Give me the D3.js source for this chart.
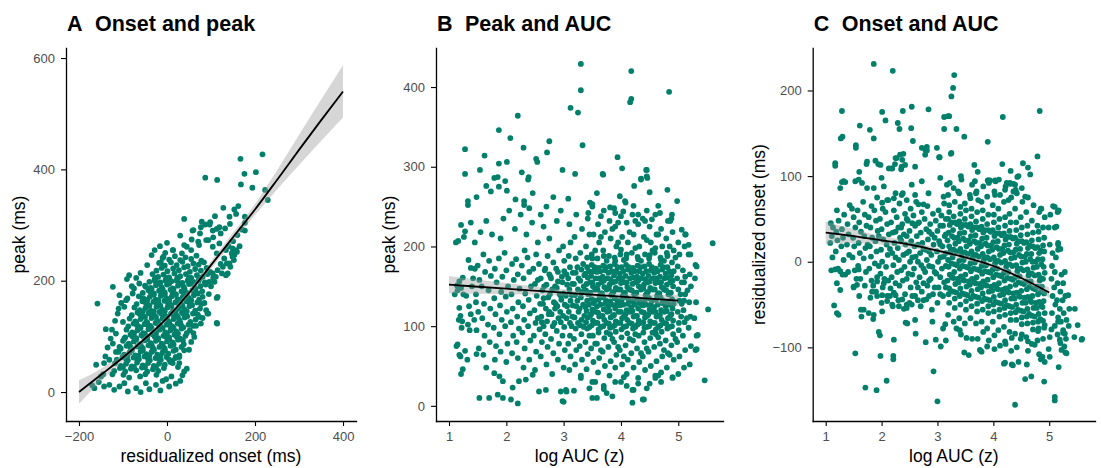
<!DOCTYPE html>
<html>
<head>
<meta charset="utf-8">
<script src="https://cdn.jsdelivr.net/npm/d3@7"></script>
<style>
  body { margin: 0; background: #fff; }
  svg { display: block; }
  text { font-family: "Liberation Sans", Arial, sans-serif; }
</style>
</head>
<body>
<svg id="chart" width="1101" height="468"></svg>
<script>
const POINT_COLOR = '#00806b'

// A: residualized onset (ms) vs peak (ms)
const onsetPeak = [
  [217,427],[167,419],[176,392],[202,395],[87,385],[114,381],[168,373],[194,367],[223,363],[229,345],
  [162,334],[128,331],[153,328],[157,320],[142,315],[177,315],[177,304],[177,290],[122,285],[113,293],
  [97,301],[79,306],[60,291],[75,285],[56,274],[71,270],[94,273],[105,278],[30,281],[45,261],
  [34,249],[14,255],[113,249],[147,249],[159,252],[136,231],[152,237],[125,213],[144,225],[39,311],
  [58,290],[77,296],[98,305],[87,301],[109,316],[104,290],[119,296],[132,294],[143,302],[13,255],
  [-10,241],[-14,233],[39,264],[55,255],[73,264],[89,273],[104,261],[119,267],[134,255],[149,258],
  [153,246],[142,231],[127,225],[138,213],[111,207],[96,198],[134,210],[-86,210],[-91,203],[-123,189],
  [-108,174],[-158,159],[-112,141],[-139,113],[-116,105],[-97,153],[-93,165],[-78,177],[-63,195],[-48,189],
  [-55,168],[-161,49],[-150,28],[-165,7],[-143,10],[-131,13],[-120,4],[-108,10],[-97,16],[-89,1],
  [-70,7],[-48,16],[-25,13],[-2,23],[13,52],[39,37],[28,63],[5,58],[-131,58],[-116,72],
  [-108,81],[-143,52],[-123,87],[-97,96],[73,135],[89,147],[77,123],[62,99],[36,93],[39,75],
  [20,63],[28,52],[115,171],[114,123],[92,141],[81,133],[104,213],[115,219],[149,243],[157,255],
  [130,240],[108,198],[113,169],[94,141],[113,124],
  [-135,80],[-128,96],[-140,64],[-145,32],[-125,112],[-118,128],[-110,150],[-100,126],[-104,160],[-90,168],
  [-80,190],[-70,205],[-60,214],[-75,186],[-45,228],[-35,246],[-28,255],[-16,262],[0,268],[-4,250],
  [30,20],[45,42],[50,76],[55,90],[35,30],[60,106],[66,119],[85,160],[95,176],[100,190],
  [105,205],[98,216],[122,230],[140,262],[150,271],[160,282],[170,292],[165,262],[25,45],[20,15],
  [10,28],[-10,20],[-170,12],[-155,18],[-60,0],[-40,5],[-15,3],[5,10],
  [-8,243],[5,238],[18,244],[30,237],[42,242],[55,239],[67,245],[78,236],
  [-18,232],[-5,227],[9,233],[22,228],[35,234],[47,226],[60,231],[72,229],[84,233],
  [-24,218],[-12,223],[1,217],[14,222],[27,219],[39,224],[52,216],[64,221],[77,218],[90,223],
  [-33,212],[-20,207],[-8,211],[5,206],[17,213],[30,208],[43,212],[55,205],[68,210],[81,207],[92,212],
  [-40,198],[-28,203],[-15,197],[-3,202],[10,199],[23,204],[35,196],[48,201],[60,198],[73,203],[86,197],
  [-50,191],[-37,187],[-25,192],[-12,188],[0,193],[13,186],[25,191],[38,189],[50,194],[63,187],[76,190],[88,193],
  [-55,178],[-42,183],[-30,177],[-18,182],[-5,179],[8,184],[20,176],[33,181],[45,178],[58,183],[70,177],[80,181],
  [-64,172],[-51,167],[-39,171],[-26,166],[-14,173],[-1,168],[11,172],[24,167],[36,171],[49,169],[61,174],[73,166],[81,171],
  [-69,158],[-56,163],[-44,157],[-31,162],[-19,159],[-6,164],[7,157],[19,161],[32,158],[44,163],[57,156],[69,161],[78,158],
  [-74,152],[-62,147],[-49,151],[-37,146],[-24,153],[-11,148],[1,152],[14,147],[26,151],[39,149],[51,154],[64,146],[75,150],
  [-80,138],[-67,143],[-55,137],[-42,142],[-30,139],[-17,144],[-4,137],[9,141],[21,138],[34,143],[46,136],[59,141],[70,139],
  [-85,132],[-72,127],[-60,131],[-47,126],[-35,133],[-22,128],[-10,132],[3,127],[15,131],[28,129],[40,134],[53,126],[65,130],
  [-88,118],[-76,123],[-63,117],[-51,122],[-38,119],[-26,124],[-13,117],[-1,121],[12,118],[24,123],[37,116],[49,121],[60,119],
  [-92,112],[-79,107],[-67,111],[-54,106],[-42,113],[-29,108],[-17,112],[-4,107],[8,111],[21,109],[33,114],[45,106],[52,111],
  [-95,98],[-83,103],[-70,97],[-58,102],[-45,99],[-33,104],[-20,97],[-8,101],[5,98],[17,103],[30,96],[42,101],
  [-100,92],[-87,87],[-75,91],[-62,86],[-50,93],[-37,88],[-25,92],[-12,87],[0,91],[13,89],[25,94],[38,86],
  [-105,78],[-92,83],[-80,77],[-67,82],[-55,79],[-42,84],[-30,77],[-17,81],[-5,78],[8,83],[20,76],[33,81],
  [-110,72],[-97,67],[-85,71],[-72,66],[-60,73],[-47,68],[-35,72],[-22,67],[-10,71],[3,69],[15,74],[28,66],
  [-114,58],[-101,63],[-89,57],[-76,62],[-64,59],[-51,64],[-39,57],[-26,61],[-14,58],[-1,63],[11,56],[19,61],
  [-118,52],[-105,47],[-93,51],[-80,46],[-68,53],[-55,48],[-43,52],[-30,47],[-18,51],[-5,49],[8,54],
  [-120,38],[-107,43],[-95,37],[-82,42],[-70,39],[-57,44],[-45,37],[-32,41],[-20,38],[-7,43],
  [-124,32],[-99,31],[-86,26],[-61,28],[-49,32],[-24,31],
  [-50,135],[-25,135],[0,135],[25,135],[-60,115],[-35,115],[-10,115],[15,115],[-70,95],[-45,95],
  [-20,95],[5,95],[-80,75],[-55,75],[-30,75],[-5,75],[-40,155],[-15,155],[10,155],[35,155],
  [-30,175],[-5,175],[20,175],[45,175],[-20,195],[5,195],[30,195],[55,195],
  [-70,125],[-45,125],[-20,125],[5,125],[30,125],[-75,105],[-50,105],[-25,105],[0,105],[25,105],
  [-85,85],[-60,85],[-35,85],[-10,85],[15,85],[-90,65],[-65,65],[-40,65],[-15,65],[-55,145],
  [-30,145],[-5,145],[20,145],[45,145],[-45,165],[-20,165],[5,165],[30,165],[55,165],[-35,185],
  [-10,185],[15,185],[40,185],[65,185],[-25,205],[0,205],[25,205],[50,205],[75,205],[-100,45],
  [-75,45],[-50,45],[-25,45],
  [-62,140],[-37,140],[-12,140],[13,140],[38,140],[-68,120],[-43,120],[-18,120],[7,120],[32,120],
  [-78,100],[-53,100],[-28,100],[-3,100],[22,100],[-83,80],[-58,80],[-33,80],[-8,80],[-93,60],
  [-68,60],[-43,60],[-18,60],[-48,160],[-23,160],[2,160],[27,160],[52,160],[-38,180],[-13,180],
  [12,180],[37,180],[62,180],[-28,200],[-3,200],[22,200],[47,200],[72,200]
]

// B: log AUC (z) vs peak (ms)
const aucPeak = [
  [3.30,429],[4.18,420],[3.30,396],[4.18,385],[4.16,381],[4.84,394],[3.12,374],[3.25,368],[2.20,364],[1.87,346],
  [2.07,336],[2.75,332],[3.33,327],[1.28,322],[2.30,324],[1.62,314],[3.94,312],[2.52,310],[2.54,306],[2.71,318],
  [4.02,298],[2.98,296],[1.54,296],[4.45,296],[3.20,291],[3.68,291],[1.28,291],[2.27,293],[1.87,304],[2.01,306],
  [2.39,287],[2.38,284],[1.85,287],[1.98,282],[4.35,285],[4.45,288],[4.23,276],[4.81,271],[4.50,268],[3.58,267],
  [2.46,267],[2.82,262],[3.98,263],[3.08,260],[4.98,257],[1.33,257],[1.33,252],[2.16,259],[2.31,257],[2.31,252],
  [2.01,270],[1.73,269],[1.48,262],[1.79,286],[1.87,275],[1.65,276],[1.21,227],[1.28,219],[1.26,212],[1.16,207],
  [1.34,183],[1.38,173],[1.24,161],[1.18,156],[1.14,151],[1.21,148],[1.30,138],[1.18,123],[1.20,113],[1.23,106],
  [1.33,102],[1.15,77],[1.18,64],[1.28,69],[1.32,58],[1.24,46],[1.21,40],[1.53,10],[1.70,10],[1.85,14],
  [1.94,10],[2.08,8],[2.20,3],[1.65,48],[1.79,41],[1.88,37],[1.94,31],[2.11,23],[2.22,31],[2.34,33],
  [2.46,39],[2.57,18],[2.69,20],[2.95,18],[3.04,20],[2.98,6],[3.18,19],[5.60,204],[5.52,121],[5.46,32],
  [5.32,71],[5.34,89],[4.44,296],[4.46,286],[4.35,284],[3.69,290],[3.46,255],[3.50,253],[3.43,242],[3.81,249],
  [3.90,242],[4.07,257],[4.04,244],[4.22,251],[4.30,240],[4.42,232],[4.54,234],[4.65,251],[4.68,242],[4.89,240],
  [4.86,232],[5.06,221],[5.12,215],[5.18,202],[5.21,190],[5.30,177],
  [1.12,205],[1.15,145],[1.22,98],[1.17,108],[1.25,140],[1.35,125],[1.38,115],[1.42,160],[1.45,172],[1.47,130],
  [1.13,75],[1.2,62],[1.48,65],[1.4,150],[1.44,108],[1.1,140],[1.36,95],
  [1.52,72],[1.48,95],[1.51,118],[1.47,140],[1.53,158],[1.5,176],
  [1.6,64],[1.62,88],[1.58,110],[1.61,128],[1.57,150],[1.63,168],[1.6,190],
  [1.71,80],[1.68,102],[1.72,122],[1.69,145],[1.73,163],[1.7,182],
  [1.8,58],[1.82,75],[1.78,98],[1.81,115],[1.79,135],[1.83,155],[1.8,172],
  [1.9,68],[1.88,90],[1.92,108],[1.89,126],[1.91,143],[1.93,162],[1.87,185],
  [2.0,55],[2.02,78],[1.98,100],[2.01,118],[1.99,137],[2.03,150],[2.0,170],[1.97,192],
  [2.1,66],[2.12,88],[2.08,105],[2.11,122],[2.09,140],[2.13,158],[2.1,178],
  [2.2,60],[2.18,80],[2.22,97],[2.19,112],[2.21,130],[2.23,147],[2.2,165],[2.17,184],
  [2.3,48],[2.32,72],[2.28,92],[2.31,108],[2.29,125],[2.33,141],[2.3,160],[2.27,176],[2.32,195],
  [2.4,58],[2.42,82],[2.38,100],[2.41,116],[2.39,133],[2.43,150],[2.4,168],[2.37,186],
  [2.5,45],[2.52,68],[2.48,88],[2.51,104],[2.49,120],[2.53,138],[2.5,153],[2.47,172],[2.52,190],
  [2.6,62],[2.62,80],[2.58,96],[2.61,112],[2.59,128],[2.63,145],[2.6,160],[2.57,178],
  [2.7,52],[2.72,74],[2.68,90],[2.71,106],[2.69,122],[2.73,136],[2.7,152],[2.67,170],[2.72,188],
  [2.8,40],[2.82,66],[2.78,84],[2.81,100],[2.79,115],[2.83,130],[2.8,146],[2.77,162],[2.82,180],
  [2.9,58],[2.92,78],[2.88,94],[2.91,110],[2.89,125],[2.93,140],[2.9,156],[2.87,172],[2.92,195],
  [3.0,48],[3.02,70],[2.98,88],[3.01,182],[2.99,200],
  [2.35,215],[2.45,230],[2.6,240],[2.65,225],[2.75,210],[2.88,232],[2.55,205],[2.25,240],[2.15,222],[1.95,235],
  [1.75,215],[1.65,232],[1.9,210],[2.05,245],[1.55,218],[1.45,205],[1.38,230],[2.95,245],[2.7,250],[2.4,248],
  [3.01,99],[2.99,113],[3.02,127],[3.0,141],[2.98,155],[3.01,169],
  [3.11,104],[3.09,118],[3.12,132],[3.1,146],[3.08,160],[3.11,174],
  [3.21,97],[3.19,111],[3.22,125],[3.2,139],[3.18,153],[3.21,167],
  [3.29,101],[3.31,108],[3.28,122],[3.3,136],[3.32,143],[3.29,157],[3.31,171],
  [3.41,97],[3.39,105],[3.42,111],[3.4,119],[3.38,124],[3.41,132],[3.43,140],[3.39,145],[3.4,153],[3.42,161],[3.38,166],[3.41,174],
  [3.49,101],[3.51,107],[3.48,115],[3.5,121],[3.52,129],[3.49,134],[3.47,142],[3.51,150],[3.5,155],[3.48,163],[3.52,169],[3.49,177],
  [3.61,96],[3.59,104],[3.62,112],[3.6,117],[3.58,125],[3.61,133],[3.63,138],[3.59,146],[3.6,152],[3.62,160],[3.58,168],[3.61,173],
  [3.69,100],[3.71,108],[3.68,113],[3.7,121],[3.72,128],[3.69,136],[3.67,141],[3.71,149],[3.7,157],[3.68,162],[3.72,170],[3.69,176],
  [3.81,98],[3.79,103],[3.82,111],[3.8,119],[3.78,125],[3.81,131],[3.83,139],[3.79,147],[3.8,152],[3.82,159],[3.78,167],[3.81,175],
  [3.89,101],[3.91,106],[3.88,114],[3.9,122],[3.92,127],[3.89,135],[3.87,143],[3.91,148],[3.9,156],[3.88,164],[3.92,169],[3.89,178],
  [4.01,96],[3.99,104],[4.02,110],[4.0,118],[3.98,126],[4.01,132],[4.03,138],[3.99,146],[4.0,154],[4.02,160],[3.98,166],[4.01,174],
  [4.09,100],[4.11,108],[4.08,115],[4.1,120],[4.12,128],[4.09,136],[4.07,142],[4.11,149],[4.1,155],[4.08,163],[4.12,171],[4.09,177],
  [4.21,97],[4.19,103],[4.22,112],[4.2,119],[4.18,124],[4.21,131],[4.23,140],[4.19,145],[4.2,153],[4.22,161],[4.18,167],[4.21,173],
  [4.29,102],[4.31,107],[4.28,113],[4.3,122],[4.32,129],[4.29,134],[4.27,142],[4.31,150],[4.3,157],[4.28,162],[4.32,169],[4.29,176],
  [4.41,98],[4.39,105],[4.42,111],[4.4,117],[4.38,126],[4.41,132],[4.43,139],[4.39,147],[4.4,152],[4.42,159],[4.38,166],[4.41,175],
  [4.49,100],[4.51,106],[4.48,115],[4.5,121],[4.52,127],[4.49,135],[4.47,143],[4.51,148],[4.5,156],[4.48,163],[4.52,170],[4.49,178],
  [4.61,96],[4.59,104],[4.62,112],[4.6,118],[4.58,124],[4.61,133],[4.63,138],[4.59,146],[4.6,154],[4.62,160],[4.58,167],[4.61,172],
  [4.69,101],[4.71,108],[4.68,114],[4.7,120],[4.72,129],[4.69,136],[4.67,141],[4.71,149],[4.7,155],[4.68,162],[4.72,171],[4.69,177],
  [4.81,97],[4.79,103],[4.82,110],[4.8,119],[4.78,125],[4.81,131],[4.83,140],[4.79,145],[4.8,152],[4.82,161],[4.78,166],[4.81,174],
  [4.89,100],[4.91,107],[4.88,115],[4.9,122],[4.92,128],[4.89,134],[4.87,142],[4.91,150],[4.9,157],[4.88,164],[4.92,169],
  [5.01,104],[4.99,118],[5.02,132],[5.0,146],[4.98,160],
  [3.45,99],[3.46,113],[3.44,127],[3.45,141],[3.46,155],[3.44,169],
  [3.55,104],[3.56,118],[3.54,132],[3.55,146],[3.56,160],[3.54,174],
  [3.65,99],[3.66,113],[3.64,127],[3.65,141],[3.66,155],[3.64,169],
  [3.75,104],[3.76,118],[3.74,132],[3.75,146],[3.76,160],[3.74,174],
  [3.85,99],[3.86,113],[3.84,127],[3.85,141],[3.86,155],[3.84,169],
  [3.95,104],[3.96,118],[3.94,132],[3.95,146],[3.96,160],[3.94,174],
  [4.05,99],[4.06,113],[4.04,127],[4.05,141],[4.06,155],[4.04,169],
  [4.15,104],[4.16,118],[4.14,132],[4.15,146],[4.16,160],[4.14,174],
  [4.25,99],[4.26,113],[4.24,127],[4.25,141],[4.26,155],[4.24,169],
  [4.35,104],[4.36,118],[4.34,132],[4.35,146],[4.36,160],[4.34,174],
  [4.45,99],[4.46,113],[4.44,127],[4.45,141],[4.46,155],[4.44,169],
  [4.55,104],[4.56,118],[4.54,132],[4.55,146],[4.56,160],[4.54,174],
  [4.65,99],[4.66,113],[4.64,127],[4.65,141],[4.66,155],[4.64,169],
  [4.75,104],[4.76,118],[4.74,132],[4.75,146],[4.76,160],[4.74,174],
  [4.85,99],[4.86,113],[4.84,127],[4.85,141],[4.86,155],[4.84,169],
  [2.62,105],[2.64,128],[2.66,150],[2.68,172],[2.74,115],[2.76,140],[2.78,160],[2.84,104],[2.86,128],[2.88,148],
  [2.9,168],[2.94,118],[2.96,133],[2.97,162],[3.05,110],[3.06,125],[3.04,138],[3.06,152],[3.05,165],[3.14,100],
  [3.15,112],[3.16,126],[3.14,139],[3.15,153],[3.16,167],[3.25,104],[3.26,118],[3.24,132],[3.25,146],[3.26,160],
  [3.24,174],[3.35,99],[3.36,113],[3.34,127],[3.35,150],[3.36,164],[3.34,178],
  [5.05,112],[5.06,128],[5.04,140],[5.06,155],[5.1,132],[5.12,162],[5.15,110],[5.16,145],
  [3.5,185],[3.7,188],[3.9,182],[4.1,190],[4.3,184],[4.5,189],[4.7,183],[4.8,192],[4.0,196],[4.6,198],
  [3.55,195],[3.65,212],[3.75,182],[3.85,222],[3.95,205],[4.05,183],[4.15,218],[4.25,198],[4.35,182],[4.45,208],
  [4.55,195],[4.65,215],[4.75,182],[4.85,200],[4.95,186],[3.45,215],[3.95,230],[4.45,245],[4.25,232],[3.65,238],
  [3.45,88],[3.65,70],[3.85,84],[4.05,62],[4.25,90],[4.45,72],[4.65,86],[4.85,64],[3.55,78],[3.75,92],
  [3.95,74],[4.15,84],[4.35,66],[4.55,92],[4.75,70],[4.95,84],
  [2.55,110],[2.65,135],[2.75,118],[2.85,150],[2.95,105],[2.55,158],[2.65,100],[2.75,165],[2.85,122],[2.95,138],
  [3.1,45],[3.12,62],[3.08,78],[3.11,88],[3.09,188],[3.12,205],[3.1,228],
  [3.2,52],[3.22,70],[3.18,84],[3.21,185],[3.19,212],[3.22,240],
  [3.3,38],[3.32,58],[3.28,75],[3.31,90],[3.29,192],[3.32,222],
  [3.4,46],[3.42,65],[3.38,80],[3.41,186],[3.39,200],[3.42,235],
  [3.5,30],[3.52,55],[3.48,72],[3.51,88],[3.49,190],[3.52,215],[3.5,250],
  [3.6,42],[3.62,60],[3.58,78],[3.61,92],[3.59,185],[3.62,205],[3.6,228],
  [3.7,25],[3.72,50],[3.68,68],[3.71,85],[3.69,195],[3.72,218],[3.7,245],
  [3.8,38],[3.82,56],[3.78,74],[3.81,90],[3.79,188],[3.82,210],[3.8,232],
  [3.9,48],[3.92,64],[3.88,80],[3.91,93],[3.89,186],[3.92,200],[3.9,225],[3.88,248],
  [4.0,30],[4.02,52],[3.98,70],[4.01,86],[3.99,190],[4.02,212],[4.0,238],
  [4.1,40],[4.12,58],[4.08,76],[4.11,91],[4.09,185],[4.12,205],[4.1,230],[4.08,255],
  [4.2,20],[4.22,48],[4.18,66],[4.21,82],[4.19,192],[4.22,215],[4.2,240],
  [4.3,35],[4.32,55],[4.28,72],[4.31,88],[4.29,187],[4.32,200],[4.3,228],
  [4.4,8],[4.42,45],[4.38,62],[4.41,80],[4.39,92],[4.42,190],[4.4,212],[4.38,235],
  [4.5,28],[4.52,50],[4.48,68],[4.51,85],[4.49,185],[4.52,205],[4.5,225],
  [4.6,38],[4.62,56],[4.58,74],[4.61,90],[4.59,192],[4.62,215],[4.6,240],
  [4.7,42],[4.72,62],[4.68,78],[4.71,93],[4.69,186],[4.72,200],[4.7,222],
  [4.8,48],[4.82,66],[4.78,82],[4.81,188],[4.79,210],[4.82,232],
  [4.9,36],[4.92,58],[4.88,76],[4.91,90],[4.89,180],[4.92,195],[4.9,218],[4.88,235],
  [5.0,40],[5.02,62],[4.98,80],[5.01,95],[4.99,175],[5.02,190],[5.0,205],
  [5.1,48],[5.12,70],[5.08,88],[5.11,105],[5.09,120],[5.12,140],[5.1,155],[5.08,170],[5.11,200],[5.13,215],
  [5.2,52],[5.22,75],[5.18,98],[5.21,112],[5.19,130],[5.22,150],[5.2,165],[5.18,190],
  [5.3,70],[5.32,88],[5.28,110],[5.31,130],[5.29,160],[5.32,175],
  [3.0,5],[3.5,10],[3.58,10],[4.2,4],[4.38,8],[4.22,20],[4.3,28],[3.05,18],[3.45,22],[3.7,21],
  [3.75,16],[3.9,30],[4.6,35],[4.65,38],[4.45,22],[3.3,35],[3.55,30],[4.05,36],[4.9,35],[3.85,12],
  [4.1,25],[4.7,30]
]

// C: log AUC (z) vs residualized onset (ms)
const aucOnset = [
  [1.86,231],[2.20,223],[3.30,218],[3.28,203],[3.25,193],[1.29,176],[2.01,175],[2.38,176],[2.54,181],[2.84,178],
  [4.83,176],[3.12,169],[3.21,170],[4.17,169],[2.07,165],[2.29,162],[1.61,159],[2.53,156],[2.32,155],[3.12,155],
  [3.34,155],[1.79,154],[1.86,144],[1.30,146],[1.27,144],[3.48,146],[1.54,136],[1.54,133],[2.56,141],[3.90,140],
  [2.81,134],[2.81,130],[2.99,133],[3.03,122],[3.24,126],[4.79,123],[1.17,115],[1.17,112],[1.73,114],[1.89,118],
  [1.94,114],[2.13,109],[2.18,109],[2.24,114],[2.27,121],[2.39,126],[2.35,108],[2.42,113],[2.37,119],[2.78,125],
  [2.78,131],[1.29,93],[1.35,93],[1.26,86],[1.60,105],[1.59,96],[2.00,98],[4.53,115],[4.62,110],[4.43,99],
  [4.30,91],[4.36,91],[4.40,84],[4.16,114],[3.90,95],[3.94,95],[4.04,94],[3.66,113],[5.10,64],[5.17,60],
  [4.85,62],[1.74,117],[1.98,113],[2.25,121],[2.33,125],[2.19,109],[2.36,111],[2.60,111],[2.72,133],[3.04,122],
  [1.32,94],[1.53,94],[1.65,92],[1.74,86],[1.86,86],[2.04,88],[2.10,72],[2.01,69],[2.25,80],[2.22,74],
  [2.36,78],[2.45,72],[2.54,90],[2.60,78],[2.66,67],[2.75,67],[2.84,80],[2.72,94],[3.05,98],[3.11,76],
  [3.17,90],[4.66,102],[4.31,106],[4.45,100],[3.25,127],[3.19,170],
  [3.43,96],[3.67,94],[3.91,95],[4.03,95],[4.24,92],[4.39,90],[4.21,84],[4.36,82],[4.51,86],[4.57,76],
  [3.70,82],[3.58,78],[3.37,82],[3.73,72],[4.03,78],[4.27,72],[4.86,62],[5.07,65],[5.16,59],[5.13,41],
  [5.16,22],[5.16,14],[5.28,-12],[5.34,-39],[5.59,-90],[5.28,-84],[5.19,-91],[5.22,-103],[5.31,-107],
  [4.39,-167],[5.10,-158],[5.10,-162],[3.00,-163],[1.91,-150],[1.71,-147],[2.09,-139],[4.57,-137],[4.68,-134],[4.91,-140],
  [2.93,-128],[1.53,-107],[2.21,-114],[2.21,-110],[1.98,-110],[4.19,-119],[4.35,-121],[4.45,-117],[4.60,-120],[3.48,-106],
  [3.56,-109],[3.06,-99],[3.76,-103],[4.02,-102],[3.89,-99],[5.58,-91],[5.51,-74],[5.46,-55],[5.17,-123],[4.88,-111],
  [4.85,-114],[4.92,-117],[5.01,-111],[5.29,-106],[5.27,-99],[1.15,-51],[1.20,-60],[1.23,-62],[1.95,-82],[1.97,-86],
  [1.63,-56],[1.64,-64],[1.85,-67],[2.43,-71],[2.46,-72],[2.60,-68],[2.61,-84],[2.79,-94],[2.97,-91],[3.15,-92],
  [2.91,-70],[3.14,-73],[3.10,-78],[3.40,-80],[3.34,-78],[3.52,-89],[3.79,-105],[4.21,-93],[4.33,-89],[4.51,-85],
  [4.62,-93],[4.74,-97],[4.80,-81],[4.92,-74],[5.04,-79],[5.16,-70],[5.25,-83],[4.33,-120],[4.21,-118],
  [1.17,-9],[1.26,-11],[1.35,-15],[1.59,-9],[1.50,-29],[1.56,-27],[1.26,-33],[1.68,-56],[1.77,-60],[1.86,-62],
  [2.01,-58],[2.22,-91],[1.83,-35],[1.92,-40],[2.01,-39],[2.10,-46],[2.19,-50],[2.31,-52],[2.37,-44],[2.45,-54],
  [2.54,-50],[2.25,-39],[2.16,-31],[2.04,-25],[1.92,-23],
  [1.1,-10],[1.12,5],[1.08,22],[1.11,30],[1.13,40],[1.09,45],
  [1.2,-25],[1.22,-8],[1.18,12],[1.21,25],[1.19,35],[1.23,48],[1.2,60],
  [1.3,-15],[1.32,2],[1.28,18],[1.31,28],[1.29,38],[1.33,55],
  [1.4,-12],[1.42,8],[1.38,20],[1.41,32],[1.39,44],[1.43,66],
  [1.5,-30],[1.52,-10],[1.48,5],[1.51,18],[1.49,28],[1.53,40],[1.5,52],[1.47,62],
  [1.6,-40],[1.62,-20],[1.58,-5],[1.61,10],[1.59,22],[1.63,35],[1.6,46],[1.57,60],
  [1.7,-28],[1.72,-12],[1.68,4],[1.71,16],[1.69,30],[1.73,42],[1.7,55],[1.67,70],
  [1.8,-42],[1.82,-22],[1.78,-8],[1.81,6],[1.79,18],[1.83,28],[1.8,40],[1.77,52],[1.82,65],
  [1.9,-35],[1.92,-18],[1.88,-2],[1.91,12],[1.89,24],[1.93,36],[1.9,48],[1.87,60],[1.92,75],
  [2.0,-48],[2.02,-30],[1.98,-14],[2.01,0],[1.99,14],[2.03,26],[2.0,38],[1.97,50],[2.02,62],
  [2.1,-40],[2.12,-22],[2.08,-6],[2.11,8],[2.09,20],[2.13,32],[2.1,44],[2.07,58],[2.12,72],
  [2.2,-52],[2.22,-36],[2.18,-18],[2.21,-4],[2.19,10],[2.23,22],[2.2,34],[2.17,46],[2.22,60],
  [2.3,-45],[2.32,-28],[2.28,-12],[2.31,2],[2.29,16],[2.33,28],[2.3,40],[2.27,52],[2.32,68],
  [2.4,-55],[2.42,-38],[2.38,-22],[2.41,-6],[2.39,8],[2.43,20],[2.4,32],[2.37,44],[2.42,56],[2.38,80],
  [2.5,-48],[2.52,-30],[2.48,-14],[2.51,0],[2.49,12],[2.53,24],[2.5,36],[2.47,48],[2.52,62],
  [2.6,-40],[2.62,-24],[2.58,-8],[2.61,6],[2.59,18],[2.63,30],[2.6,42],[2.57,54],[2.62,70],
  [2.7,-52],[2.72,-35],[2.68,-18],[2.71,-4],[2.69,10],[2.73,22],[2.7,34],[2.67,46],[2.72,58],
  [2.8,-44],[2.82,-28],[2.78,-12],[2.81,2],[2.79,14],[2.83,26],[2.8,38],[2.77,50],[2.82,65],
  [2.9,-56],[2.92,-38],[2.88,-20],[2.91,-6],[2.89,8],[2.93,20],[2.9,32],[2.87,44],[2.92,56],
  [3.0,-48],[3.02,-30],[2.98,-14],[3.01,0],[2.99,12],[3.03,24],[3.0,36],[2.97,48],[3.02,60],
  [3.1,-40],[3.12,-24],[3.08,-8],[3.11,6],[3.09,18],[3.13,30],[3.1,42],[3.07,54],[3.12,68],
  [2.45,-20],[2.55,5],[2.65,-30],[2.75,15],[2.85,-5],[2.95,28],[3.05,-18],[3.15,10],[2.35,40],[2.45,30],
  [2.55,-40],[2.65,20],[2.75,-25],[2.85,35],[2.95,-30],[3.05,42],[3.15,-30],[2.25,-25],[2.15,15],[2.05,-20],
  [1.95,30],[1.85,-28],[2.35,-10],[2.65,45],[2.85,-40],[3.05,5],[3.15,50],[2.55,45],[2.45,-50],[2.75,-45],
  [2.25,5],[2.35,25],[2.45,10],[2.55,-15],[2.65,0],[2.75,-8],[2.85,12],[2.95,-12],[3.05,20],[3.15,-5],
  [2.25,35],[2.45,50],[2.65,-45],[2.85,-22],[3.05,-38],[3.15,32],[2.15,-40],[1.95,-5],[1.75,20],[1.55,-20],
  [3.21,58],[3.19,50],[3.22,43],[3.2,34],[3.18,25],[3.21,18],[3.23,11],[3.19,2],[3.2,-6],[3.22,-15],[3.18,-22],[3.21,-31],[3.2,-38],
  [3.29,53],[3.31,46],[3.28,37],[3.3,28],[3.32,21],[3.29,14],[3.27,5],[3.31,-3],[3.3,-12],[3.28,-19],[3.32,-26],[3.29,-35],[3.31,-43],
  [3.41,56],[3.39,47],[3.42,40],[3.4,33],[3.38,24],[3.41,15],[3.43,8],[3.39,1],[3.4,-8],[3.42,-17],[3.38,-24],[3.41,-31],[3.4,-40],
  [3.49,50],[3.51,43],[3.48,34],[3.5,25],[3.52,18],[3.49,11],[3.47,2],[3.51,-6],[3.5,-15],[3.48,-22],[3.52,-29],[3.49,-38],[3.51,-46],
  [3.61,53],[3.59,44],[3.62,37],[3.6,30],[3.58,21],[3.61,12],[3.63,5],[3.59,-2],[3.6,-11],[3.62,-20],[3.58,-27],[3.61,-34],[3.6,-43],
  [3.69,47],[3.71,40],[3.68,31],[3.7,22],[3.72,15],[3.69,8],[3.67,-1],[3.71,-9],[3.7,-18],[3.68,-25],[3.72,-32],[3.69,-41],[3.71,-49],
  [3.81,50],[3.79,41],[3.82,34],[3.8,27],[3.78,18],[3.81,9],[3.83,2],[3.79,-5],[3.8,-14],[3.82,-23],[3.78,-30],[3.81,-37],[3.8,-46],
  [3.89,44],[3.91,37],[3.88,28],[3.9,19],[3.92,12],[3.89,5],[3.87,-4],[3.91,-12],[3.9,-21],[3.88,-28],[3.92,-35],[3.89,-44],[3.91,-52],
  [4.01,46],[3.99,37],[4.02,30],[4.0,23],[3.98,14],[4.01,5],[4.03,-2],[3.99,-9],[4.0,-18],[4.02,-27],[3.98,-34],[4.01,-41],[4.0,-50],
  [4.09,40],[4.11,33],[4.08,24],[4.1,15],[4.12,8],[4.09,1],[4.07,-8],[4.11,-16],[4.1,-25],[4.08,-32],[4.12,-39],[4.09,-48],[4.11,-56],
  [4.21,42],[4.19,33],[4.22,26],[4.2,19],[4.18,10],[4.21,1],[4.23,-6],[4.19,-13],[4.2,-22],[4.22,-31],[4.18,-38],[4.21,-45],[4.2,-54],
  [4.29,36],[4.31,29],[4.28,20],[4.3,11],[4.32,4],[4.29,-3],[4.27,-12],[4.31,-20],[4.3,-29],[4.28,-36],[4.32,-43],[4.29,-52],[4.31,-60],
  [4.41,37],[4.39,28],[4.42,21],[4.4,14],[4.38,5],[4.41,-4],[4.43,-11],[4.39,-18],[4.4,-27],[4.42,-36],[4.38,-43],[4.41,-50],[4.4,-59],
  [4.49,31],[4.51,24],[4.48,15],[4.5,6],[4.52,-1],[4.49,-8],[4.47,-17],[4.51,-25],[4.5,-34],[4.48,-41],[4.52,-48],[4.49,-57],[4.51,-65],
  [4.61,32],[4.59,23],[4.62,16],[4.6,9],[4.58,0],[4.61,-9],[4.63,-16],[4.59,-23],[4.6,-32],[4.62,-41],[4.58,-48],[4.61,-55],[4.6,-64],
  [4.69,25],[4.71,18],[4.68,9],[4.7,0],[4.72,-7],[4.69,-14],[4.67,-23],[4.71,-31],[4.7,-40],[4.68,-47],[4.72,-54],[4.69,-63],[4.71,-71],
  [4.81,26],[4.79,17],[4.82,10],[4.8,3],[4.78,-6],[4.81,-15],[4.83,-22],[4.79,-29],[4.8,-38],[4.82,-47],[4.78,-54],[4.81,-61],[4.8,-70],
  [4.89,19],[4.91,12],[4.88,3],[4.9,-6],[4.92,-13],[4.89,-20],[4.87,-29],[4.91,-37],[4.9,-46],[4.88,-53],[4.92,-60],[4.89,-69],
  [3.25,46],[3.26,30],[3.24,14],[3.25,-2],[3.26,-18],[3.24,-34],
  [3.35,44],[3.36,28],[3.34,12],[3.35,-4],[3.36,-20],[3.34,-36],
  [3.45,43],[3.46,27],[3.44,11],[3.45,-5],[3.46,-21],[3.44,-37],
  [3.55,41],[3.56,25],[3.54,9],[3.55,-7],[3.56,-23],[3.54,-39],
  [3.65,40],[3.66,24],[3.64,8],[3.65,-8],[3.66,-24],[3.64,-40],
  [3.75,38],[3.76,22],[3.74,6],[3.75,-10],[3.76,-26],[3.74,-42],
  [3.85,37],[3.86,21],[3.84,5],[3.85,-11],[3.86,-27],[3.84,-43],
  [3.95,35],[3.96,19],[3.94,3],[3.95,-13],[3.96,-29],[3.94,-45],
  [4.05,33],[4.06,17],[4.04,1],[4.05,-15],[4.06,-31],[4.04,-47],
  [4.15,31],[4.16,15],[4.14,-1],[4.15,-17],[4.16,-33],[4.14,-49],
  [4.25,29],[4.26,13],[4.24,-3],[4.25,-19],[4.26,-35],[4.24,-51],
  [4.35,27],[4.36,11],[4.34,-5],[4.35,-21],[4.36,-37],[4.34,-53],
  [4.45,24],[4.46,8],[4.44,-8],[4.45,-24],[4.46,-40],[4.44,-56],
  [4.55,22],[4.56,6],[4.54,-10],[4.55,-26],[4.56,-42],[4.54,-58],
  [4.65,19],[4.66,3],[4.64,-13],[4.65,-29],[4.66,-45],[4.64,-61],
  [4.75,16],[4.76,0],[4.74,-16],[4.75,-32],[4.76,-48],[4.74,-64],
  [4.85,13],[4.86,-3],[4.84,-19],[4.85,-35],[4.86,-51],[4.84,-67],
  [3.21,66],[3.19,78],[3.22,92],[3.31,70],[3.29,86],[3.41,64],[3.39,80],[3.42,100],[3.51,60],[3.49,68],
  [3.61,62],[3.59,74],[3.62,90],[3.71,58],[3.69,80],[3.72,105],[3.81,60],[3.79,70],[3.82,88],[3.91,55],
  [3.89,76],[3.92,92],[4.01,55],[3.99,66],[4.02,82],[4.11,50],[4.09,62],[4.12,78],[4.1,96],[4.21,52],
  [4.19,70],[4.22,88],[4.31,46],[4.29,56],[4.32,75],[4.3,92],[4.41,46],[4.39,62],[4.42,80],[4.51,40],
  [4.49,52],[4.52,70],[4.61,42],[4.59,58],[4.62,75],[4.71,34],[4.69,48],[4.72,66],[4.81,35],[4.79,42],
  [4.82,58],[4.91,28],[4.89,40],[4.92,52],[5.01,20],[4.99,40],[5.02,55],
  [3.21,-48],[3.19,-62],[3.31,-54],[3.29,-70],[3.41,-50],[3.39,-66],[3.42,-85],[3.51,-56],[3.49,-72],[3.61,-52],
  [3.59,-66],[3.62,-90],[3.71,-58],[3.69,-72],[3.72,-90],[3.81,-56],[3.79,-70],[3.82,-82],[3.91,-60],[3.89,-78],
  [3.92,-92],[4.01,-58],[3.99,-70],[4.02,-86],[4.11,-64],[4.09,-80],[4.12,-98],[4.21,-62],[4.19,-76],[4.22,-96],
  [4.31,-68],[4.29,-82],[4.32,-104],[4.41,-68],[4.39,-84],[4.42,-100],[4.51,-73],[4.49,-90],[4.61,-72],[4.59,-88],
  [4.62,-104],[4.71,-79],[4.69,-96],[4.81,-78],[4.79,-92],[4.82,-108],[4.91,-77],[4.89,-90],[5.01,-88],[4.99,-102],
  [5.05,-60],[5.06,-40],[5.04,-20],[5.05,-5],[5.06,10],[5.1,-75],[5.11,-50],[5.09,-30],[5.1,-12],[5.12,5],
  [5.1,40],[5.15,-85],[5.16,-65],[5.14,-45],[5.15,-25],[5.16,20],[5.15,58],[5.2,-95],[5.21,-70],[5.19,-55],
  [5.2,-35],[5.22,-15],[5.2,15],[5.25,-80],[5.26,-60],[5.24,-45],[5.25,-25],[5.3,-90],[5.31,-68],[5.29,-40],
  [5.35,-75],[5.36,-55],[5.45,-88]
]

// smooth fits with their confidence half-widths
const fitAX = [-200, -150, -100, -50, 0, 50, 100, 150, 200, 250, 300, 350, 400]
const fitAY = [0, 31, 62, 96, 133, 178, 228, 278, 328, 381, 435, 488, 540]
const fitASe = [21, 11, 7, 5, 5, 6, 7, 8, 10, 17, 27, 37, 47]

const fitBX = [1, 2, 3, 4, 5]
const fitBY = [152, 147, 142, 137, 132]
const fitBSe = [11, 7, 4, 4, 7]

const fitCX = [1, 1.5, 2, 2.5, 3, 3.5, 4, 4.5, 5]
const fitCY = [34, 30, 25, 20, 13, 5, -5, -19, -36]
const fitCSe = [13, 8, 5, 4, 3, 3, 3, 4, 6]

const ticksAX = [-200, 0, 200, 400]
const ticksAY = [0, 200, 400, 600]
const ticksBX = [1, 2, 3, 4, 5]
const ticksBY = [0, 100, 200, 300, 400]
const ticksCX = [1, 2, 3, 4, 5]
const ticksCY = [-100, 0, 100, 200]

const TOP = 48
const BOTTOM = 421

const panels = [
  { tag: 'A', title: 'Onset and peak', points: onsetPeak,
    fitX: fitAX, fitY: fitAY, fitSe: fitASe,
    left: 66, right: 356, xDomain: [-229.5, 429.5], yDomain: [-52, 618],
    xTicks: ticksAX, yTicks: ticksAY,
    xLabel: 'residualized onset (ms)', yLabel: 'peak (ms)', yLabelX: 25 },
  { tag: 'B', title: 'Peak and AUC', points: aucPeak,
    fitX: fitBX, fitY: fitBY, fitSe: fitBSe,
    left: 436, right: 723, xDomain: [0.773, 5.78], yDomain: [-19, 449],
    xTicks: ticksBX, yTicks: ticksBY,
    xLabel: 'log AUC (z)', yLabel: 'peak (ms)', yLabelX: 395 },
  { tag: 'C', title: 'Onset and AUC', points: aucOnset,
    fitX: fitCX, fitY: fitCY, fitSe: fitCSe,
    left: 812.7, right: 1095, xDomain: [0.767, 5.82], yDomain: [-186, 249.6],
    xTicks: ticksCX, yTicks: ticksCY,
    xLabel: 'log AUC (z)', yLabel: 'residualized onset (ms)', yLabelX: 765 }
]

const svg = d3.select('#chart')
const fmt = d3.format('d')

const styleAxis = g => {
  g.select('.domain').attr('stroke', '#000').attr('stroke-width', 1.3).attr('stroke-linecap', 'square')
  g.selectAll('.tick line').attr('stroke', '#000').attr('stroke-width', 1.1)
  g.selectAll('.tick text').attr('fill', '#4d4d4d').style('font-size', '13px')
}

panels.forEach(p => {
  const x = d3.scaleLinear().domain(p.xDomain).range([p.left, p.right])
  const y = d3.scaleLinear().domain(p.yDomain).range([BOTTOM, TOP])
  const g = svg.append('g')

  g.append('g').selectAll('circle')
    .data(p.points)
    .join('circle')
      .attr('cx', d => x(d[0]))
      .attr('cy', d => y(d[1]))
      .attr('r', 2.9)
      .attr('fill', POINT_COLOR)

  const fit = p.fitX.map((v, i) => ({ x: v, y: p.fitY[i], se: p.fitSe[i] }))

  g.append('path')
    .datum(fit)
    .attr('d', d3.area()
      .x(d => x(d.x))
      .y0(d => y(d.y - d.se))
      .y1(d => y(d.y + d.se))
      .curve(d3.curveMonotoneX))
    .attr('fill', '#999')
    .attr('fill-opacity', 0.4)

  g.append('path')
    .datum(fit)
    .attr('d', d3.line().x(d => x(d.x)).y(d => y(d.y)).curve(d3.curveMonotoneX))
    .attr('fill', 'none')
    .attr('stroke', '#000')
    .attr('stroke-width', 1.8)

  g.append('g')
    .attr('transform', `translate(0,${BOTTOM})`)
    .call(d3.axisBottom(x).tickValues(p.xTicks).tickFormat(fmt).tickSize(5).tickPadding(6).tickSizeOuter(0))
    .call(styleAxis)

  g.append('g')
    .attr('transform', `translate(${p.left},0)`)
    .call(d3.axisLeft(y).tickValues(p.yTicks).tickFormat(fmt).tickSize(5).tickPadding(6).tickSizeOuter(0))
    .call(styleAxis)

  // titles
  g.append('text')
    .attr('x', p.left + 1).attr('y', 31)
    .style('font-size', '21.5px').style('font-weight', 'bold')
    .text(p.tag)
  g.append('text')
    .attr('x', p.left + 29).attr('y', 31)
    .style('font-size', '21.5px').style('font-weight', 'bold')
    .text(p.title)

  g.append('text')
    .attr('x', (p.left + p.right) / 2).attr('y', 462)
    .attr('text-anchor', 'middle')
    .style('font-size', '17.5px')
    .text(p.xLabel)

  g.append('text')
    .attr('transform', `translate(${p.yLabelX},${(TOP + BOTTOM) / 2}) rotate(-90)`)
    .attr('text-anchor', 'middle')
    .style('font-size', '17.5px')
    .text(p.yLabel)
})
</script>
</body>
</html>
